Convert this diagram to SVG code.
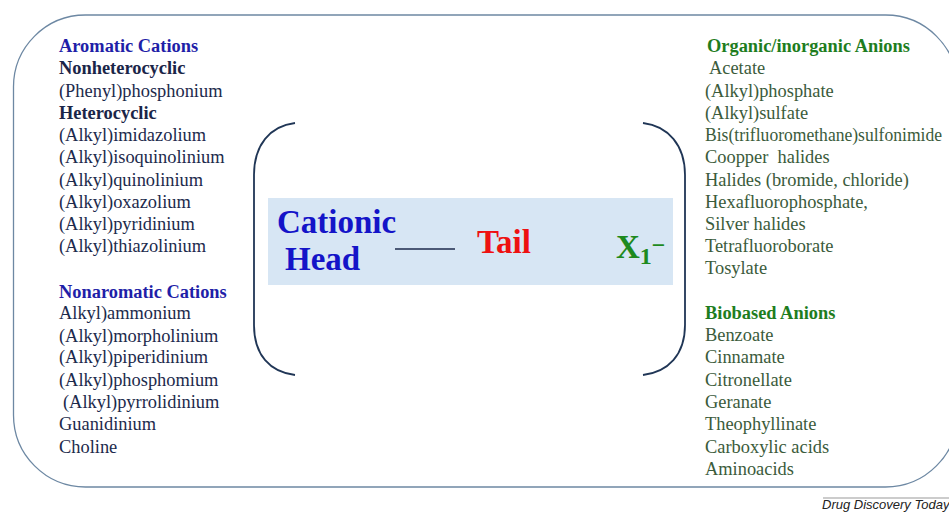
<svg xmlns="http://www.w3.org/2000/svg" width="949" height="512" viewBox="0 0 949 512">
<style>
text{font-family:"Liberation Serif","Times New Roman",serif;font-size:18.4px}
.hb{fill:#1f1fa8;font-weight:bold}
.sb{fill:#1a2548;font-weight:bold}
.it{fill:#1c2a4c}
.hg{fill:#1e7d1e;font-weight:bold}
.ig{fill:#3b5b3b}
.br{fill:none;stroke:#203656;stroke-width:1.8}
.big{font-size:33px;font-weight:bold}
</style>
<rect width="949" height="512" fill="#ffffff"/>
<g id="frame">
<rect x="13.5" y="15" width="944" height="472" rx="72" ry="72" fill="none" stroke="#6d88a3" stroke-width="1.3"/>
</g>
<g id="cations">
<text x="59" y="52" class="hb">Aromatic Cations</text>
<text x="59" y="74" class="sb">Nonheterocyclic</text>
<text x="59" y="97" class="it">(Phenyl)phosphonium</text>
<text x="59" y="119" class="sb">Heterocyclic</text>
<text x="59" y="141" class="it">(Alkyl)imidazolium</text>
<text x="59" y="163" class="it">(Alkyl)isoquinolinium</text>
<text x="59" y="186" class="it">(Alkyl)quinolinium</text>
<text x="59" y="208" class="it">(Alkyl)oxazolium</text>
<text x="59" y="230" class="it">(Alkyl)pyridinium</text>
<text x="59" y="252" class="it">(Alkyl)thiazolinium</text>
<text x="59" y="298" class="hb">Nonaromatic Cations</text>
<text x="59" y="319" class="it">Alkyl)ammonium</text>
<text x="59" y="342" class="it">(Alkyl)morpholinium</text>
<text x="59" y="363" class="it">(Alkyl)piperidinium</text>
<text x="59" y="386" class="it">(Alkyl)phosphomium</text>
<text x="63" y="408" class="it">(Alkyl)pyrrolidinium</text>
<text x="59" y="430" class="it">Guanidinium</text>
<text x="59" y="453" class="it">Choline</text>
</g>
<g id="anions">
<text x="707" y="52" class="hg">Organic/inorganic Anions</text>
<text x="709" y="74" class="ig">Acetate</text>
<text x="705" y="97" class="ig">(Alkyl)phosphate</text>
<text x="705" y="119" class="ig">(Alkyl)sulfate</text>
<text x="705" y="141" class="ig" textLength="237" lengthAdjust="spacingAndGlyphs">Bis(trifluoromethane)sulfonimide</text>
<text x="705" y="163" class="ig" xml:space="preserve">Coopper  halides</text>
<text x="705" y="186" class="ig">Halides (bromide, chloride)</text>
<text x="705" y="208" class="ig">Hexafluorophosphate,</text>
<text x="705" y="230" class="ig">Silver halides</text>
<text x="705" y="252" class="ig">Tetrafluoroborate</text>
<text x="705" y="274" class="ig">Tosylate</text>
<text x="705" y="319" class="hg">Biobased Anions</text>
<text x="705" y="341" class="ig">Benzoate</text>
<text x="705" y="363" class="ig">Cinnamate</text>
<text x="705" y="386" class="ig">Citronellate</text>
<text x="705" y="408" class="ig">Geranate</text>
<text x="705" y="430" class="ig">Theophyllinate</text>
<text x="705" y="453" class="ig">Carboxylic acids</text>
<text x="705" y="475" class="ig">Aminoacids</text>
</g>
<g id="formula">
<path class="br" d="M295,123 C270,126 254,145 254,175 L254,325 C254,355 270,372 295,375"/>
<path class="br" d="M643,123 C668,126 685,145 685,175 L685,325 C685,355 668,372 643,375"/>
<rect x="268" y="198" width="405" height="87" fill="#d7e6f4"/>
<text x="277" y="233" class="big" style="fill:#1414c8">Cationic</text>
<text x="285" y="270" class="big" style="fill:#1414c8">Head</text>
<line x1="395" y1="249" x2="455" y2="249" stroke="#1c2a4c" stroke-width="1.6"/>
<text x="477" y="253" class="big" style="fill:#ee1111">Tail</text>
<text x="616" y="258" class="big" style="fill:#1e8a1e">X<tspan dy="6" style="font-size:24px">1</tspan><tspan dy="-11" style="font-size:24px">−</tspan></text>
</g>
<g id="footer">
<line x1="823" y1="498" x2="949" y2="498" stroke="#9a9a9a" stroke-width="1.2"/>
<text x="822" y="509" style="font-family:'Liberation Sans',Arial,sans-serif;font-size:13px;font-style:italic;fill:#222">Drug Discovery Today</text>
</g>
</svg>
